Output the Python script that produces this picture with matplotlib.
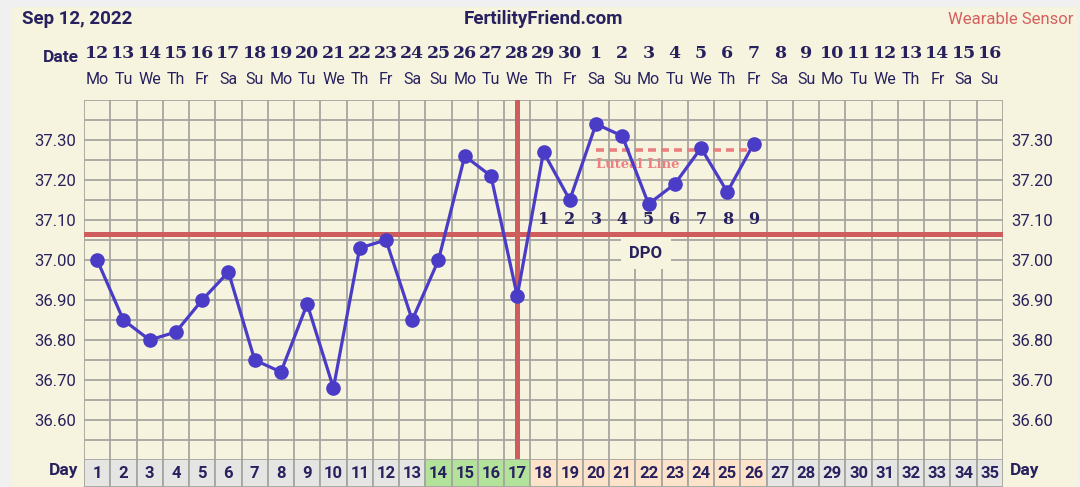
import matplotlib
matplotlib.use("Agg")
from matplotlib import pyplot as plt
from matplotlib.patches import Rectangle
from matplotlib.transforms import blended_transform_factory
import numpy as np

# chart data
cycle_days = list(range(1, 36))
date_nums = [12, 13, 14, 15, 16, 17, 18, 19, 20, 21, 22, 23, 24, 25, 26, 27, 28, 29, 30,
             1, 2, 3, 4, 5, 6, 7, 8, 9, 10, 11, 12, 13, 14, 15, 16]
weekdays = ["Mo", "Tu", "We", "Th", "Fr", "Sa", "Su"] * 5
temp_days = list(range(1, 27))
temps = [37.00, 36.85, 36.80, 36.82, 36.90, 36.97, 36.75, 36.72, 36.89, 36.68,
         37.03, 37.05, 36.85, 37.00, 37.26, 37.21, 36.91, 37.27, 37.15, 37.34,
         37.31, 37.14, 37.19, 37.28, 37.17, 37.29]
ytick_vals = [36.60, 36.70, 36.80, 36.90, 37.00, 37.10, 37.20, 37.30]
coverline = 37.065
ovulation_day = 17
dpo_days = list(range(18, 27))
dpo_labels = [str(i) for i in range(1, 10)]
luteal_temp = 37.275
luteal_start, luteal_end = 20, 26
fertile_days = [14, 15, 16, 17]
luteal_days = list(range(18, 27))

NAVY = "#28215f"
CREAM = "#f6f4df"
GRID = "#a6a6a0"
RED = "#cf5d5d"
LINE = "#4a3cc6"
SERIF = "DejaVu Serif"
SANS = "Roboto"

fig = plt.figure(figsize=(10.8, 4.87), dpi=100, facecolor="#f0f0f0")
fig.patches.append(Rectangle((12 / 1080, 0), 1065 / 1080, 1 - 7 / 487,
                             transform=fig.transFigure, facecolor=CREAM,
                             edgecolor="none", zorder=-5))

W, H = 1080, 487
x0, x1 = 84, 1003
ax = fig.add_axes([x0 / W, (H - 460) / H, (x1 - x0) / W, 360 / H])
ax.set_facecolor(CREAM)
ax.set_xlim(0.5, 35.5)
ax.set_ylim(36.50, 37.40)

# grid
for x in np.arange(0.5, 36, 1):
    ax.axvline(x, color=GRID, lw=1.3, zorder=1)
for y in np.arange(36.50, 37.41, 0.05):
    ax.axhline(y, color=GRID, lw=1.3, zorder=1)

for s in ax.spines.values():
    s.set_visible(False)

ax.set_xticks([])
ax.set_yticks(ytick_vals)
ax.set_yticklabels(["%.2f" % v for v in ytick_vals])
ax.tick_params(axis="y", length=0, labelsize=12, labelcolor=NAVY, pad=6,
               labelright=True, labelleft=True)
for lab in ax.get_yticklabels():
    lab.set_fontfamily(SANS)

# coverline and ovulation line
ax.axhline(coverline, color=RED, lw=3.6, zorder=2)
ax.axvline(ovulation_day, color=RED, lw=3.6, ymin=0.005, zorder=2)

# luteal line
ax.plot([luteal_start, luteal_end], [luteal_temp, luteal_temp], color="#eb7f7f",
        lw=2.6, ls=(0, (2.2, 1.4)), zorder=3)
ax.text(luteal_start, luteal_temp - 0.036, "Luteal Line", color="#ec8080",
        fontsize=9.5, fontweight="bold", family=SERIF, va="center", ha="left", zorder=3)

# temperatures
ax.plot(temp_days, temps, color=LINE, lw=2.3, marker="o", ms=9.5, zorder=4)

# dpo numbers
for d, lab in zip(dpo_days, dpo_labels):
    ax.text(d, 37.10, lab, color=NAVY, fontsize=11.5, fontweight="bold",
            family=SERIF, ha="center", va="center", zorder=5)
ax.text(21.9, 37.017, "DPO", color=NAVY, fontsize=12, fontweight="bold",
        family=SANS, ha="center", va="center", zorder=5,
        bbox=dict(boxstyle="square,pad=0.5", fc=CREAM, ec="none"))

# header rows
trans = blended_transform_factory(ax.transData, fig.transFigure)
for d, n, wd in zip(cycle_days, date_nums, weekdays):
    fig.text(d, 1 - 53 / H, str(n), transform=trans, color=NAVY, fontsize=12.5,
             fontweight="bold", family=SERIF, ha="center", va="center")
    fig.text(d, 1 - 79 / H, wd, transform=trans, color=NAVY, fontsize=11.5,
             family=SANS, ha="center", va="center")
fig.text(79 / W, 1 - 58 / H, "Date", color=NAVY, fontsize=12.5, fontweight="bold",
         family=SANS, ha="right", va="center")

fig.text(22 / W, 1 - 19 / H, "Sep 12, 2022", color=NAVY, fontsize=13.5,
         fontweight="bold", family=SANS, ha="left", va="center")
fig.text(543 / W, 1 - 19 / H, "FertilityFriend.com", color=NAVY, fontsize=13.5,
         fontweight="bold", family=SANS, ha="center", va="center")
fig.text(1073 / W, 1 - 19 / H, "Wearable Sensor", color="#d45f5f", fontsize=12,
         family=SANS, ha="right", va="center")

# day row
dax = fig.add_axes([x0 / W, 0, (x1 - x0) / W, 28 / H])
dax.set_xlim(0.5, 35.5)
dax.set_ylim(0, 1)
dax.axis("off")
for d in cycle_days:
    if d in fertile_days:
        fc = "#b3e39a"
    elif d in luteal_days:
        fc = "#fde3c9"
    else:
        fc = "#e5e5e3"
    dax.add_patch(Rectangle((d - 0.5, 0), 1, 1, facecolor=fc, edgecolor=GRID, lw=1.3))
    dax.text(d, 0.5, str(d), color=NAVY, fontsize=12, fontweight="bold",
             family=SANS, ha="center", va="center")
fig.text(78 / W, 16 / H, "Day", color=NAVY, fontsize=12.5, fontweight="bold",
         family=SANS, ha="right", va="center")
fig.text(1010 / W, 16 / H, "Day", color=NAVY, fontsize=12.5, fontweight="bold",
         family=SANS, ha="left", va="center")

fig.savefig("out.png", dpi=100, facecolor=fig.get_facecolor())
